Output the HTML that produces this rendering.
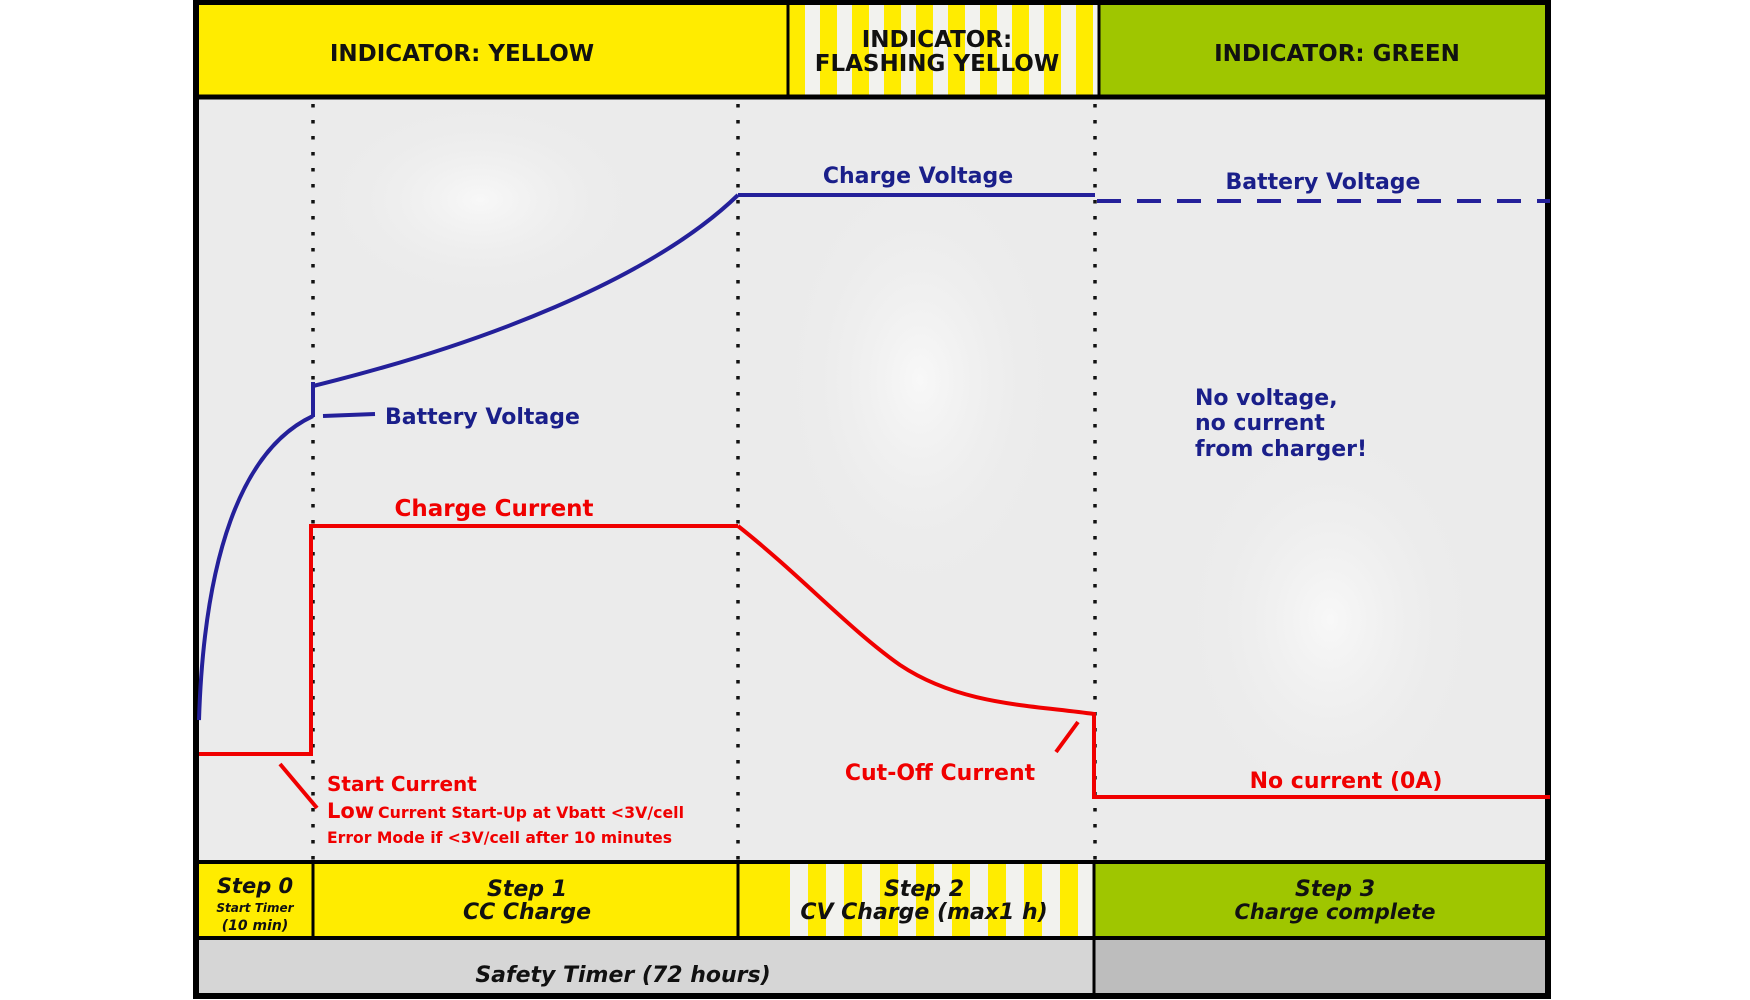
<!DOCTYPE html>
<html><head><meta charset="utf-8"><style>
html,body{margin:0;padding:0;background:#fff;}
svg{display:block;}
text{font-family:"DejaVu Sans","Liberation Sans",sans-serif;font-weight:bold;}
</style></head><body>
<svg width="1750" height="1000" viewBox="0 0 1750 1000" xmlns="http://www.w3.org/2000/svg">
<defs>
<pattern id="hs" x="805" y="0" width="32" height="100" patternUnits="userSpaceOnUse">
<rect width="32" height="100" fill="#ffec00"/><rect x="0" width="15" height="100" fill="#f2f2ee"/>
</pattern>
<pattern id="ss" x="790" y="0" width="36" height="100" patternUnits="userSpaceOnUse">
<rect width="36" height="100" fill="#ffec00"/><rect x="0" width="18" height="100" fill="#f2f2ee"/>
</pattern>
<radialGradient id="g1" cx="0.5" cy="0.5" r="0.5"><stop offset="0" stop-color="#f8f8f8"/><stop offset="1" stop-color="#ececec" stop-opacity="0"/></radialGradient>
</defs>
<rect x="196" y="96" width="1354" height="768" fill="#ebebeb"/>
<ellipse cx="920" cy="380" rx="140" ry="220" fill="url(#g1)"/>
<ellipse cx="1330" cy="620" rx="150" ry="200" fill="url(#g1)"/>
<ellipse cx="480" cy="200" rx="160" ry="100" fill="url(#g1)"/>
<rect x="196" y="2" width="592" height="94" fill="#ffec00"/>
<rect x="788" y="2" width="310" height="94" fill="url(#hs)"/>
<rect x="788" y="2" width="14" height="94" fill="#ffec00"/>
<rect x="1098" y="2" width="450" height="94" fill="#9fc600"/>
<line x1="788" y1="2" x2="788" y2="96" stroke="#000" stroke-width="3"/>
<line x1="1099" y1="2" x2="1099" y2="96" stroke="#000" stroke-width="3"/>
<line x1="196" y1="97" x2="1550" y2="97" stroke="#000" stroke-width="5"/>
<text x="462" y="61" font-size="23" text-anchor="middle" fill="#111">INDICATOR: YELLOW</text>
<text x="937" y="47" font-size="23" text-anchor="middle" fill="#111">INDICATOR:</text>
<text x="937" y="71" font-size="23" text-anchor="middle" fill="#111">FLASHING YELLOW</text>
<text x="1337" y="61" font-size="23" text-anchor="middle" fill="#111">INDICATOR: GREEN</text>
<rect x="196" y="862" width="117" height="76" fill="#ffec00"/>
<rect x="313" y="862" width="425" height="76" fill="#ffec00"/>
<rect x="738" y="862" width="356" height="76" fill="url(#ss)"/>
<rect x="738" y="862" width="52" height="76" fill="#ffec00"/>
<rect x="1094" y="862" width="454" height="76" fill="#9fc600"/>
<rect x="196" y="938" width="898" height="56" fill="#d6d6d6"/>
<rect x="1094" y="938" width="454" height="56" fill="#bdbdbd"/>
<line x1="196" y1="862" x2="1550" y2="862" stroke="#000" stroke-width="4"/>
<line x1="196" y1="938" x2="1550" y2="938" stroke="#000" stroke-width="4"/>
<line x1="313" y1="862" x2="313" y2="938" stroke="#000" stroke-width="3"/>
<line x1="738" y1="862" x2="738" y2="938" stroke="#000" stroke-width="3"/>
<line x1="1094" y1="862" x2="1094" y2="994" stroke="#000" stroke-width="3"/>
<g font-style="italic" fill="#111" text-anchor="middle">
<text x="255" y="893" font-size="21">Step 0</text>
<text x="255" y="912" font-size="12">Start Timer</text>
<text x="255" y="930" font-size="14">(10 min)</text>
<text x="527" y="896" font-size="22">Step 1</text>
<text x="527" y="919" font-size="22">CC Charge</text>
<text x="924" y="896" font-size="22">Step 2</text>
<text x="924" y="919" font-size="22">CV Charge (max1 h)</text>
<text x="1335" y="896" font-size="22">Step 3</text>
<text x="1335" y="919" font-size="21">Charge complete</text>
<text x="623" y="982" font-size="22">Safety Timer (72 hours)</text>
</g>
<rect x="196" y="2" width="1352" height="994" fill="none" stroke="#000" stroke-width="6"/>
<g stroke="#111" stroke-width="3.5" stroke-dasharray="3.5 12.5" stroke-linecap="butt">
<line x1="313" y1="104" x2="313" y2="860"/>
<line x1="738" y1="104" x2="738" y2="860"/>
<line x1="1095" y1="104" x2="1095" y2="860"/>
</g>
<g fill="none" stroke="#24209a" stroke-width="4">
<path d="M199,720 C204,560 240,450 313,416"/>
<path d="M313,417 L313,382"/>
<path d="M313,386 C480,345 650,280 738,195"/>
<path d="M738,195 L1095,195"/>
<path d="M1097,201 L1550,201" stroke-dasharray="24 16"/>
<path d="M323,416 L375,414"/>
</g>
<g fill="#1a1f8a">
<text x="385" y="424" font-size="22">Battery Voltage</text>
<text x="918" y="183" font-size="22" text-anchor="middle">Charge Voltage</text>
<text x="1323" y="189" font-size="22" text-anchor="middle">Battery Voltage</text>
<text x="1195" y="405" font-size="22">No voltage,</text>
<text x="1195" y="430" font-size="22">no current</text>
<text x="1195" y="456" font-size="22">from charger!</text>
</g>
<g fill="none" stroke="#f00000" stroke-width="4">
<path d="M199,754 L311,754 L311,526 L738,526"/>
<path d="M738,526 C800,575 850,630 900,665 C960,705 1030,705 1094,714 L1094,797 L1550,797"/>
<path d="M280,764 L317,808"/>
<path d="M1078,722 L1056,752"/>
</g>
<g fill="#f00000">
<text x="494" y="516" font-size="23" text-anchor="middle">Charge Current</text>
<text x="327" y="791" font-size="20">Start Current</text>
<text x="327" y="818" font-size="21">Low</text>
<text x="378" y="818" font-size="16" font-family="Liberation Sans, sans-serif" textLength="306" lengthAdjust="spacingAndGlyphs">Current Start-Up at Vbatt &lt;3V/cell</text>
<text x="327" y="843" font-size="16" font-family="Liberation Sans, sans-serif" textLength="345" lengthAdjust="spacingAndGlyphs">Error Mode if &lt;3V/cell after 10 minutes</text>
<text x="940" y="780" font-size="22" text-anchor="middle">Cut-Off Current</text>
<text x="1346" y="788" font-size="22" text-anchor="middle">No current (0A)</text>
</g>
</svg>
</body></html>
